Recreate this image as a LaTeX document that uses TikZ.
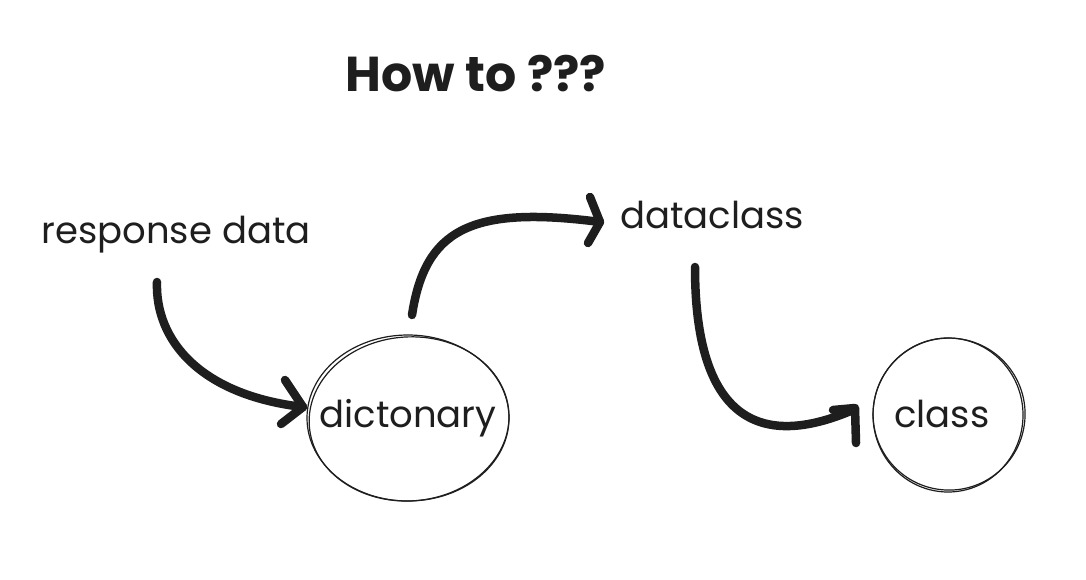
\documentclass[tikz,border=0pt]{standalone}
\usepackage{fontspec}
\setmainfont{Poppins}
\usetikzlibrary{calc}
\begin{document}
\begin{tikzpicture}[x=1pt,y=-1pt,
  lbl/.style={inner sep=0pt, anchor=base, text=ink, font=\fontsize{37}{37}\selectfont},
  conn/.style={draw=ink, line width=8.5pt, line cap=round, line join=round},
  sketch/.style={draw=ink, line width=1.2pt}]
\definecolor{ink}{HTML}{1E1E1E}
\useasboundingbox[fill=white] (0,0) rectangle (1086,580);
% title
\node[lbl, font=\fontsize{49}{49}\selectfont\bfseries] (title) at (476,92) {How to ???};
% labels
\node[lbl] (resp) at (176,243) {response data};
\node[lbl] (dcls) at (712,228) {dataclass};
\node[lbl] (dict) at (408,427) {dictonary};
\node[lbl] (cls) at (942,427) {class};
% circles
\coordinate (dictc) at (408,418);
\coordinate (clsc) at (948,415);
\draw[sketch] (dictc) ellipse [x radius=101, y radius=83];
\draw[sketch, rotate around={4:(dictc)}] ($(dictc)+(1,1)$) ellipse [x radius=100, y radius=82];
\draw[sketch] (clsc) ellipse [x radius=75, y radius=77];
\draw[sketch, rotate around={-5:(clsc)}] ($(clsc)+(1,-1)$) ellipse [x radius=76, y radius=76];
% connector coordinates
\coordinate (a1s) at (157,282);
\coordinate (a1t) at (303,407);
\coordinate (a2s) at (412,315);
\coordinate (a2t) at (600,222);
\coordinate (a3s) at (695,267);
\coordinate (a3t) at (853,410);
% arrow 1
\draw[conn] (a1s) .. controls (155,340) and (200,395) .. (a1t);
\draw[conn] (285,380) -- (a1t) -- (281,424);
% arrow 2
\draw[conn] (a2s) .. controls (425,230) and (470,205) .. (a2t);
\draw[conn] (590,197) -- (a2t) -- (588,243);
% arrow 3
\draw[conn] (a3s) .. controls (695,420) and (760,450) .. (a3t);
\draw[conn] (833,410) -- (855,408) -- (856,443);
\end{tikzpicture}
\end{document}
